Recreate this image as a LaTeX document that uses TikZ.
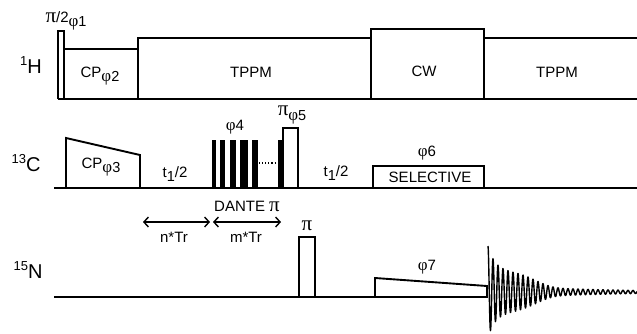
\documentclass[tikz,border=0pt]{standalone}
\usepackage{fontspec}
\setmainfont{Liberation Sans}
\newfontfamily\grk{Liberation Serif}
\usetikzlibrary{arrows.meta}
\newcommand{\pii}{{\grk\fontsize{21}{21}\selectfont π}}
\newcommand{\phii}{{\grk\fontsize{17}{17}\selectfont φ}}
\newcommand{\sub}[1]{\raisebox{-0.3em}{\fontsize{14.5}{14.5}\selectfont #1}}
\newcommand{\sups}[1]{\raisebox{0.42em}{\fontsize{13}{13}\selectfont #1}}

\begin{document}
\begin{tikzpicture}[
                    x=1pt, y=-1pt,
                    pulse/.style={line width=1.9pt, line join=miter},
                    axis/.style={line width=2.1pt},
                    bar/.style={fill=black, draw=none},
                    span/.style={line width=1.4pt, {Straight Barb[length=4.5pt,width=10pt]}-{Straight Barb[length=4.5pt,width=10pt]}},
                    lab/.style={inner sep=0pt, font=\fontsize{15}{18}\selectfont},
                    chan/.style={inner sep=0pt, font=\fontsize{20}{22}\selectfont}
                ]
                \useasboundingbox (0,0) rectangle (637,333);
                \fill[white] (0,0) rectangle (637,333);

                % 1H channel
                \draw[pulse] (58,99) -- (58,31) -- (64,31) -- (64,99);
                \draw[pulse] (64,49) -- (138,49) -- (138,99);
                \draw[pulse] (138,99) -- (138,38) -- (371,38) -- (371,99);
                \draw[pulse] (371,38) -- (371,29) -- (484,29) -- (484,99);
                \draw[pulse] (484,38) -- (637,38);
                \draw[axis] (58,99) -- (637,99);

                % 13C channel
                \draw[pulse] (66,188) -- (66,138) -- (140,155) -- (140,188);
                \foreach \x/\w in {212/3.5, 220/4.5, 229.5/6, 240/8, 252/6, 278/5}{
                        \fill[bar] (\x,140) rectangle ++(\w,48);
                    }
                \draw[line width=1.1pt, dotted] (259,163) -- (277,163);
                \draw[pulse] (283,188) -- (283,128) -- (298,128) -- (298,188);
                \draw[pulse] (373,188) -- (373,166) -- (484,166) -- (484,188);
                \draw[axis] (54,188) -- (637,188);

                % 15N channel
                \draw[pulse] (299,297) -- (299,237) -- (315,237) -- (315,297);
                \draw[pulse] (375,297) -- (375,278) -- (487,286) -- (487,297);
                \draw[axis] (54,297) -- (488,297);

                % fid
                \draw[line width=1.4pt, line join=round] plot[domain=0:149, samples=600]
                    (\x+488, {292-(24*exp(-\x/7)+14*exp(-(\x/52)^4)+8*exp(-\x/90))*cos(72*\x)});

                % delays
                \coordinate (n1) at (143,222);
                \coordinate (n2) at (210,222);
                \coordinate (m1) at (213,222);
                \coordinate (m2) at (281,222);
                \draw[span] (n1) -- (n2);
                \draw[span] (m1) -- (m2);

                \node[chan] (h1) at (31,65) {\sups{1}H};
                \node[chan] (c13) at (26,163) {\sups{13}C};
                \node[chan] (n15) at (28,270) {\sups{15}N};

                \node[lab] (p1) at (66,21) {\pii/2\sub{\phii1}};
                \node[lab] (cp2) at (100,76) {CP\sub{\phii2}};
                \node[lab] (cp3) at (101,167) {CP\sub{\phii3}};
                \node[lab] (tp1) at (251,72) {TPPM};
                \node[lab] (cw) at (424,71) {CW};
                \node[lab] (tp2) at (557,72) {TPPM};
                \node[lab] (t1) at (175,174) {t\sub{1}/2};
                \node[lab] (t2) at (336,173) {t\sub{1}/2};
                \node[lab] (ph4) at (235,127) {\phii4};
                \node[lab] (p5) at (292,115) {\pii\sub{\phii5}};
                \node[lab] (ph6) at (427,153) {\phii6};
                \node[lab] (sel) at (430,177) {SELECTIVE};
                \node[lab] (dan) at (247,206) {DANTE \pii};
                \node[lab] (nt) at (174,237) {n*Tr};
                \node[lab] (mt) at (246,237) {m*Tr};
                \node[lab] (p6) at (307,226) {\pii};
                \node[lab] (ph7) at (427,267) {\phii7};
            \end{tikzpicture}
\end{document}
